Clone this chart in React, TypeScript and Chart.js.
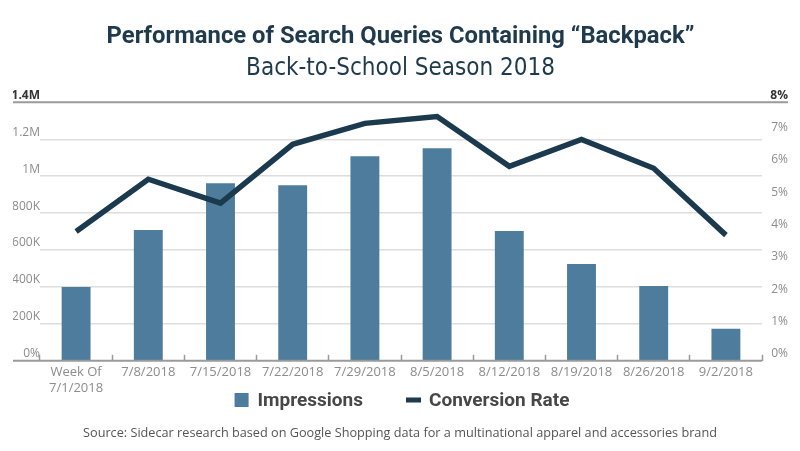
import React, { useEffect, useRef } from "react";
import { Chart, registerables } from "chart.js";

Chart.register(...registerables);

const titleText = "Performance of Search Queries Containing \u201cBackpack\u201d";
const subtitleText = "Back-to-School Season 2018";
const sourceText = "Source: Sidecar research based on Google Shopping data for a multinational apparel and accessories brand";

const categories: (string | string[])[] = [
  ["Week Of", "7/1/2018"],
  "7/8/2018",
  "7/15/2018",
  "7/22/2018",
  "7/29/2018",
  "8/5/2018",
  "8/12/2018",
  "8/19/2018",
  "8/26/2018",
  "9/2/2018",
];

const impressions = [400000, 708000, 962000, 951000, 1108000, 1151000, 703000, 524000, 405000, 173000];
const conversionRate = [4.0, 5.62, 4.88, 6.7, 7.35, 7.56, 6.02, 6.85, 5.96, 3.89];

const leftTickLabels = ["0%", "200K", "400K", "600K", "800K", "1M", "1.2M", "1.4M"];
const rightTickLabels = ["0%", "1%", "2%", "3%", "4%", "5%", "6%", "7%", "8%"];

const BAR_COLOR = "#4d7c9d";
const LINE_COLOR = "#1b3a4e";
const TITLE_COLOR = "#1e3a4c";
const LEGEND_FONT = 'bold 19px Roboto, "Open Sans", sans-serif';

const framePlugin = {
  id: "frame",
  afterDraw(chart: any) {
    const { ctx, chartArea, scales } = chart;
    const y = scales.y;
    const y1 = scales.y1;
    const yTop = y.getPixelForValue(1400000);
    const yBot = y.getPixelForValue(0);
    ctx.save();
    // top rule and baseline
    ctx.strokeStyle = "#9a9a9a";
    ctx.lineWidth = 2;
    ctx.beginPath();
    ctx.moveTo(y.left, yTop);
    ctx.lineTo(y1.right, yTop);
    ctx.stroke();
    ctx.beginPath();
    ctx.moveTo(y.left, yBot);
    ctx.lineTo(chartArea.right, yBot);
    ctx.stroke();

    // legend (bar dataset first, then line dataset)
    const ds = chart.data.datasets;
    const barDs = ds[1];
    const lineDs = ds[0];
    ctx.font = LEGEND_FONT;
    const w1 = ctx.measureText(barDs.label).width;
    const w2 = ctx.measureText(lineDs.label).width;
    const total = 14 + 9 + w1 + 43 + 15 + 8 + w2;
    let x = chart.width / 2 - total / 2 + 2;
    const cy = 400;
    ctx.fillStyle = barDs.backgroundColor;
    ctx.fillRect(x, cy - 7, 14, 14);
    x += 14 + 9;
    ctx.fillStyle = "#474747";
    ctx.textAlign = "left";
    ctx.textBaseline = "middle";
    ctx.fillText(barDs.label, x, cy + 1);
    x += w1 + 43;
    ctx.fillStyle = lineDs.borderColor;
    ctx.fillRect(x, cy - 2.5, 15, 5);
    x += 15 + 8;
    ctx.fillStyle = "#474747";
    ctx.fillText(lineDs.label, x, cy + 1);

    // source
    ctx.font = '12.7px "Open Sans", sans-serif';
    ctx.fillStyle = "#555555";
    ctx.textAlign = "center";
    ctx.textBaseline = "middle";
    ctx.fillText(sourceText, chart.width / 2, 433);
    ctx.restore();
  },
};

export default function App() {
  const canvasRef = useRef<HTMLCanvasElement | null>(null);

  useEffect(() => {
    if (!canvasRef.current) return;
    const chart = new Chart(canvasRef.current, {
      type: "bar",
      data: {
        labels: categories,
        datasets: [
          {
            type: "line",
            label: "Conversion Rate",
            data: conversionRate,
            yAxisID: "y1",
            borderColor: LINE_COLOR,
            backgroundColor: LINE_COLOR,
            borderWidth: 5.5,
            borderJoinStyle: "miter",
            borderCapStyle: "butt",
            pointRadius: 0,
            pointHoverRadius: 0,
            tension: 0,
            order: 0,
          } as any,
          {
            type: "bar",
            label: "Impressions",
            data: impressions,
            yAxisID: "y",
            backgroundColor: BAR_COLOR,
            borderWidth: 0,
            categoryPercentage: 1,
            barPercentage: 0.4,
            order: 1,
          } as any,
        ],
      },
      options: {
        responsive: false,
        animation: false,
        maintainAspectRatio: false,
        layout: { padding: { left: 13, right: 12, top: 0, bottom: 45 } },
        plugins: {
          title: {
            display: true,
            text: titleText,
            color: TITLE_COLOR,
            font: { family: 'Roboto, "Open Sans", sans-serif', size: 23.8, weight: "bold" },
            padding: { top: 23, bottom: 2 },
          },
          subtitle: {
            display: true,
            text: subtitleText,
            color: TITLE_COLOR,
            font: { family: '"DejaVu Sans Condensed", sans-serif', size: 24, weight: "normal" },
            padding: { top: 1, bottom: 19 },
          },
          legend: { display: false },
          tooltip: { enabled: false },
        },
        scales: {
          x: {
            offset: true,
            border: { display: false },
            grid: {
              offset: true,
              drawOnChartArea: false,
              drawTicks: true,
              tickLength: -6,
              tickWidth: 1.5,
              tickColor: "#9a9a9a",
            },
            ticks: {
              color: "#8c8c8c",
              font: { family: '"Open Sans", sans-serif', size: 13 },
              maxRotation: 0,
              autoSkip: false,
              padding: 10,
            },
          },
          y: {
            position: "left",
            min: 0,
            max: 1400000,
            border: { display: false },
            afterFit: (scale: any) => {
              scale.width = 27;
            },
            grid: {
              drawTicks: false,
              lineWidth: 1.5,
              color: (ctx: any) =>
                ctx.tick && (ctx.tick.value === 0 || ctx.tick.value === 1400000) ? "rgba(0,0,0,0)" : "#dedede",
            },
            ticks: {
              stepSize: 200000,
              padding: 0,
              labelOffset: -7,
              color: (ctx: any) => (ctx.tick && ctx.tick.value === 1400000 ? "#333333" : "#8c8c8c"),
              font: (ctx: any) => ({
                family: '"Open Sans", sans-serif',
                size: 12,
                weight: ctx.tick && ctx.tick.value === 1400000 ? "bold" : "normal",
              }),
              callback: (_v: any, i: number) => leftTickLabels[i],
            },
          },
          y1: {
            position: "right",
            min: 0,
            max: 8,
            border: { display: false },
            afterFit: (scale: any) => {
              scale.width = 26;
            },
            grid: { display: false, drawTicks: false },
            ticks: {
              stepSize: 1,
              padding: 9,
              labelOffset: -7,
              crossAlign: "far",
              color: (ctx: any) => (ctx.tick && ctx.tick.value === 8 ? "#333333" : "#8c8c8c"),
              font: (ctx: any) => ({
                family: '"Open Sans", sans-serif',
                size: 12,
                weight: ctx.tick && ctx.tick.value === 8 ? "bold" : "normal",
              }),
              callback: (_v: any, i: number) => rightTickLabels[i],
            },
          },
        },
      },
      plugins: [framePlugin],
    });
    return () => chart.destroy();
  }, []);

  return (
    <div style={{ position: "absolute", left: 0, top: 0, width: 800, height: 451, background: "#fff" }}>
      <canvas ref={canvasRef} width={800} height={451} style={{ display: "block" }} />
    </div>
  );
}
